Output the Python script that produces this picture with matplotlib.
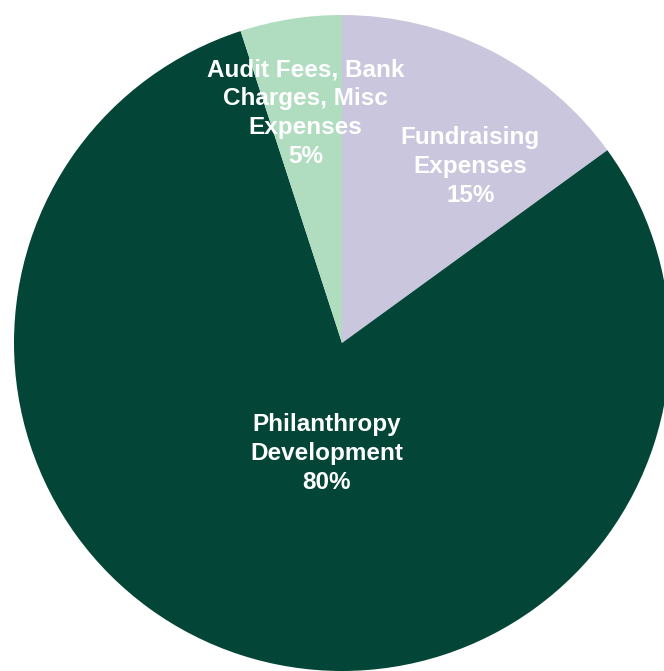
import numpy as np
import matplotlib
matplotlib.use("Agg")
import matplotlib.pyplot as plt

labels = ["Fundraising\nExpenses", "Philanthropy\nDevelopment", "Audit Fees, Bank\nCharges, Misc\nExpenses"]
shares = [15, 80, 5]
colors = ["#C9C6DD", "#034536", "#B0DCC0"]

# label placement (radial distance, angle shift in degrees) — Excel-like
lab_r = [0.665, 0.34, 0.71]
lab_shift = [-9, 10, 0]

plt.rcParams["font.family"] = ["Liberation Sans", "DejaVu Sans"]
fig = plt.figure(figsize=(6.64, 6.71), dpi=100)
ax = fig.add_axes([14 / 664, 0, 656 / 664, 656 / 671])
wedges, _ = ax.pie(shares, colors=colors, startangle=90, counterclock=False,
                   radius=1, wedgeprops=dict(linewidth=0))
ax.set_xlim(-1, 1); ax.set_ylim(-1, 1); ax.set_aspect("auto")

for w, lab, v, r, s in zip(wedges, labels, shares, lab_r, lab_shift):
    ang = np.deg2rad((w.theta1 + w.theta2) / 2 + s)
    ax.text(r * np.cos(ang), r * np.sin(ang), f"{lab}\n{v}%", ha="center", va="center",
            color="white", fontsize=17.5, fontweight="bold", linespacing=1.32)

fig.savefig("out.png", dpi=100)
